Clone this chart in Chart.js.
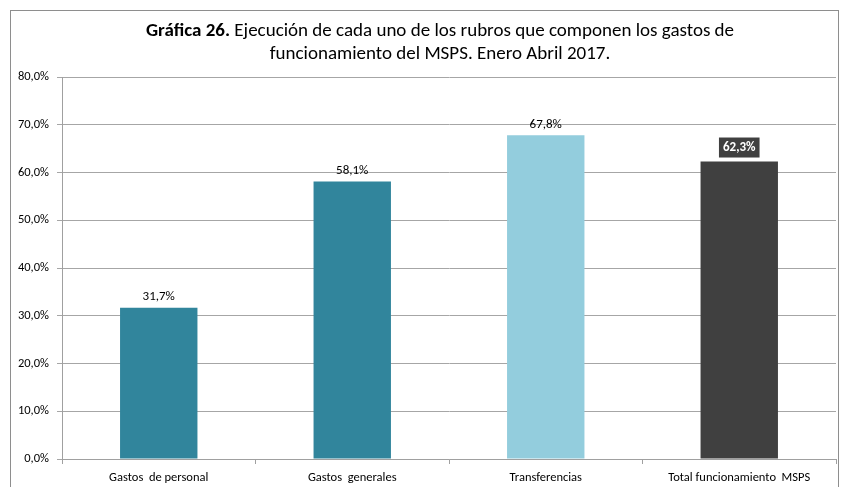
<!DOCTYPE html>
<html>
<head>
<meta charset="utf-8">
<script src="https://cdn.jsdelivr.net/npm/chart.js@4/dist/chart.umd.min.js"></script>
<style>
  html, body { margin: 0; padding: 0; background: #fff; }
  #wrap { position: relative; width: 841px; height: 487px; }
  #frame { position: absolute; left: 10px; top: 10px; width: 829px; height: 490px; border: 1px solid #8e8e8e; box-sizing: border-box; }
  canvas { position: absolute; left: 0; top: 0; }
</style>
</head>
<body>
<div id="wrap">
  <div id="frame"></div>
  <canvas id="chart" width="841" height="487"></canvas>
</div>
<script>
const FONT = "Carlito, 'Liberation Sans Narrow', 'DejaVu Sans Condensed', sans-serif";

const titleBold = "Gráfica 26.";
const titleLine1 = " Ejecución de cada uno de los rubros que componen los gastos de";
const titleLine2 = "funcionamiento del MSPS. Enero Abril 2017.";

const categories = ["Gastos  de personal", "Gastos  generales", "Transferencias", "Total funcionamiento  MSPS"];
const values = [31.7, 58.1, 67.8, 62.3];
const barColors = ["#31859C", "#31859C", "#93CDDD", "#404040"];
const yTicks = [0, 10, 20, 30, 40, 50, 60, 70, 80];

const pct = (v) => v.toFixed(1).replace(".", ",") + "%";

// title with a bold lead-in, centred over the plot
const titlePlugin = {
  id: "mixedTitle",
  afterDraw(chart) {
    const ctx = chart.ctx;
    const cx = 440;
    ctx.save();
    ctx.fillStyle = "#000";
    ctx.textBaseline = "alphabetic";
    ctx.font = `bold 19px ${FONT}`;
    const wBold = ctx.measureText(titleBold).width;
    ctx.font = `19px ${FONT}`;
    const wRest = ctx.measureText(titleLine1).width;
    let x = cx - (wBold + wRest) / 2;
    ctx.textAlign = "left";
    ctx.font = `bold 19px ${FONT}`;
    ctx.fillText(titleBold, x, 36);
    ctx.font = `19px ${FONT}`;
    ctx.fillText(titleLine1, x + wBold, 36);
    ctx.textAlign = "center";
    ctx.fillText(titleLine2, cx, 59);
    ctx.restore();
  }
};

// value labels above each bar; the total gets a dark box
const valueLabels = {
  id: "valueLabels",
  afterDatasetsDraw(chart) {
    const ctx = chart.ctx;
    const meta = chart.getDatasetMeta(0);
    ctx.save();
    ctx.textAlign = "center";
    ctx.textBaseline = "middle";
    meta.data.forEach((bar, i) => {
      const text = pct(values[i]);
      if (i === values.length - 1) {
        const y = bar.y - 14;
        ctx.font = `bold 13px ${FONT}`;
        const w = ctx.measureText(text).width + 8;
        ctx.fillStyle = "#404040";
        ctx.fillRect(bar.x - w / 2, y - 10, w, 20);
        ctx.fillStyle = "#fff";
        ctx.fillText(text, bar.x, y);
      } else {
        ctx.font = `13px ${FONT}`;
        ctx.fillStyle = "#000";
        ctx.fillText(text, bar.x, bar.y - 11);
      }
    });
    ctx.restore();
  }
};

new Chart(document.getElementById("chart"), {
  type: "bar",
  data: {
    labels: categories,
    datasets: [{
      data: values,
      backgroundColor: barColors,
      borderWidth: 0,
      barPercentage: 0.4,
      categoryPercentage: 1.0,
    }],
  },
  options: {
    responsive: false,
    animation: false,
    layout: { padding: { left: 0, right: 5, top: 77, bottom: 0 } },
    plugins: {
      legend: { display: false },
      tooltip: { enabled: false },
    },
    scales: {
      x: {
        grid: { offset: true, drawOnChartArea: false, drawTicks: true, tickLength: 5, color: "#a0a0a0" },
        border: { color: "#a0a0a0" },
        ticks: { color: "#000", font: { family: FONT, size: 12.5 }, padding: 6 },
        afterFit: (scale) => { scale.height = 28; },
      },
      y: {
        min: 0,
        max: 80,
        afterBuildTicks: (scale) => { scale.ticks = yTicks.map((v) => ({ value: v })); },
        grid: { color: "#a6a6a6", tickLength: 5 },
        border: { color: "#a0a0a0" },
        ticks: { color: "#000", font: { family: FONT, size: 12.5 }, padding: 8, callback: (v) => pct(v) },
        afterFit: (scale) => { scale.width = 62; },
      },
    },
  },
  plugins: [titlePlugin, valueLabels],
});
</script>
</body>
</html>
